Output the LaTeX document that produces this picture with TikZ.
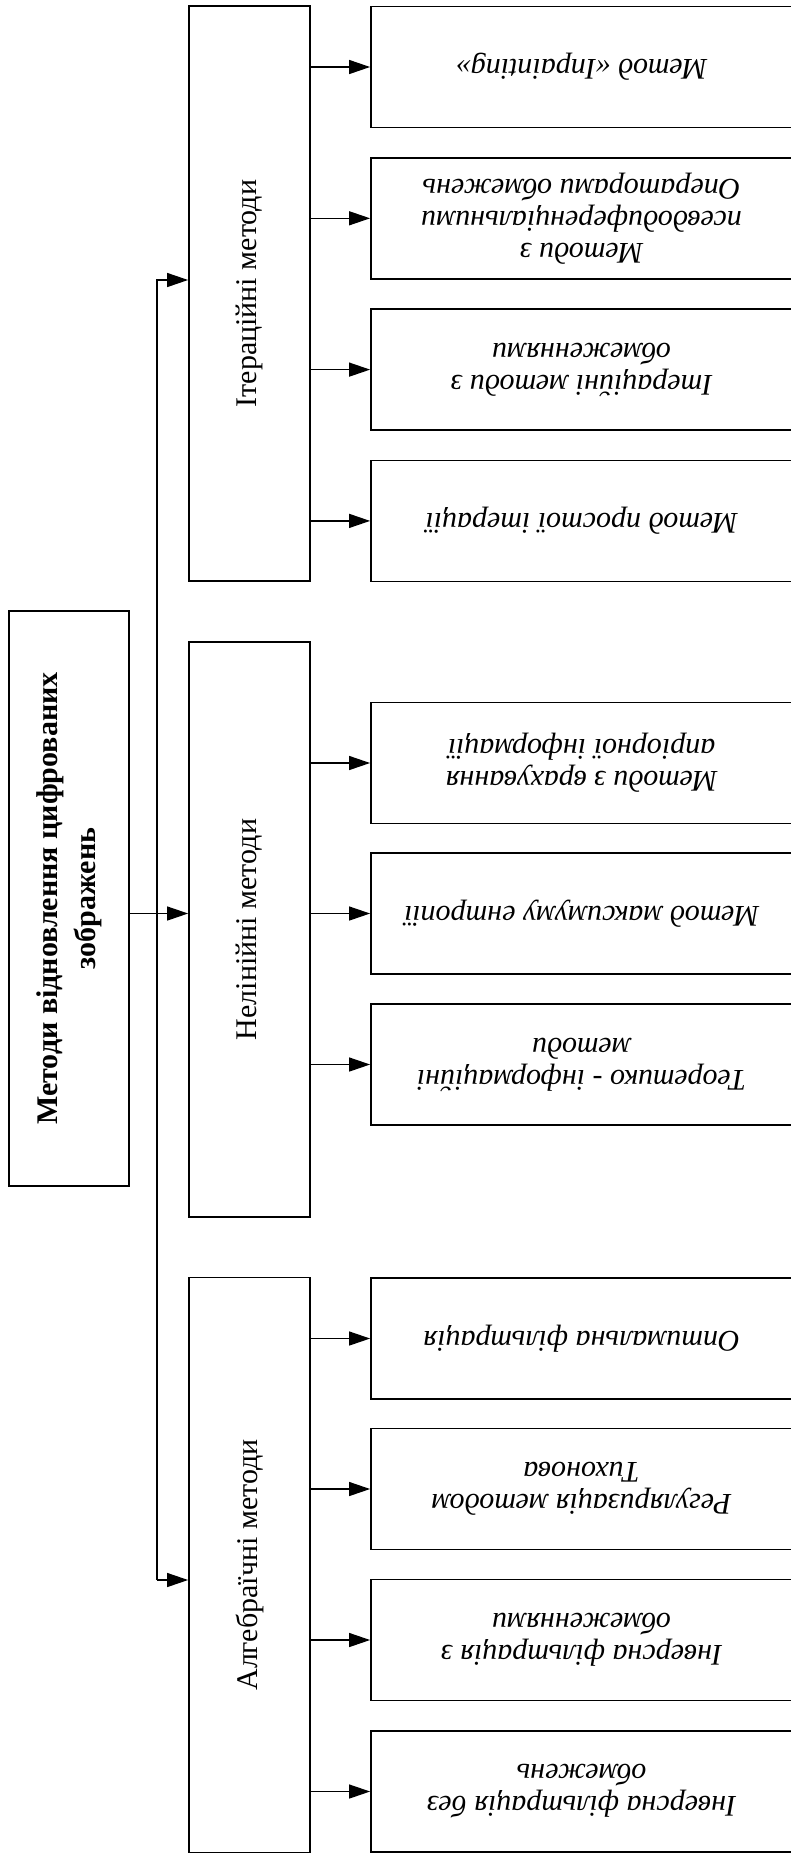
\documentclass[tikz,border=0pt]{standalone}
\usepackage{fontspec}
\setmainfont{Liberation Serif}
\usetikzlibrary{arrows.meta}

\begin{document}
\begin{tikzpicture}[x=0.5pt, y=-0.5pt]

    % Стилі вузлів і стрілок
    \tikzstyle{mainbox} = [rectangle, rotate=90, minimum width=287.5pt, minimum height=60pt, inner sep=0pt, align=center, draw=black, line width=0.9pt, font=\fontsize{15pt}{19pt}\selectfont\bfseries]
    \tikzstyle{groupbox} = [rectangle, rotate=90, minimum width=287.5pt, minimum height=60.5pt, inner sep=0pt, align=center, draw=black, line width=0.9pt, font=\fontsize{15pt}{16pt}\selectfont]
    \tikzstyle{methodbox} = [rectangle, rotate=180, minimum width=210.5pt, minimum height=60.5pt, inner sep=0pt, align=center, draw=black, line width=0.9pt, font=\fontsize{15pt}{16pt}\selectfont\itshape]
    \tikzstyle{arrow} = [line width=0.65pt, ->, >={Triangle[length=10.5pt, width=7pt]}]

    \useasboundingbox (0,0) rectangle (791,1854);

    % Головний вузол і групи методів
    \node (main) [mainbox] at (69,898.5) {Методи відновлення цифрованих\\ зображень};
    \node (iter) [groupbox] at (249.5,293.5) {Ітераційні методи};
    \node (nonlin) [groupbox] at (249.5,929.5) {Нелінійні методи};
    \node (alg) [groupbox] at (249.5,1565) {Алгебраїчні методи};

    % Ітераційні методи
    \node (i1) [methodbox] at (581.5,67) {Метод «Inpainting»};
    \node (i2) [methodbox] at (581.5,218.3) {Методи з\\ псевдодиференціальними\\ Операторами обмежень};
    \node (i3) [methodbox] at (581.5,369.6) {Ітераційні методи з\\ обмеженнями};
    \node (i4) [methodbox] at (581.5,520.9) {Метод простої ітерації};

    % Нелінійні методи
    \node (n1) [methodbox] at (581.5,763) {Методи з врахування\\ апріорної інформації};
    \node (n2) [methodbox] at (581.5,913.5) {Метод максимуму ентропії};
    \node (n3) [methodbox] at (581.5,1064.5) {Теоретико - інформаційні\\ методи};

    % Алгебраїчні методи
    \node (a1) [methodbox] at (581.5,1338.5) {Оптимальна фільтрація};
    \node (a2) [methodbox] at (581.5,1489) {Регуляризація методом\\ Тихонова};
    \node (a3) [methodbox] at (581.5,1640) {Інверсна фільтрація з\\ обмеженнями};
    \node (a4) [methodbox] at (581.5,1791.5) {Інверсна фільтрація без\\ обмежень};

    % Стовбур від головного вузла
    \coordinate (jiter) at (157,280);
    \coordinate (jalg) at (157,1580);
    \draw [arrow] (main.south |- n2) -- (nonlin.north |- n2);
    \draw [arrow] (jalg) -- (jiter) -- (jiter -| iter.north);
    \draw [arrow] (jalg) -- (jalg -| alg.north);

    % Стрілки до методів
    \draw [arrow] (iter.south |- i1) -- (i1.east);
    \draw [arrow] (iter.south |- i2) -- (i2.east);
    \draw [arrow] (iter.south |- i3) -- (i3.east);
    \draw [arrow] (iter.south |- i4) -- (i4.east);
    \draw [arrow] (nonlin.south |- n1) -- (n1.east);
    \draw [arrow] (nonlin.south |- n2) -- (n2.east);
    \draw [arrow] (nonlin.south |- n3) -- (n3.east);
    \draw [arrow] (alg.south |- a1) -- (a1.east);
    \draw [arrow] (alg.south |- a2) -- (a2.east);
    \draw [arrow] (alg.south |- a3) -- (a3.east);
    \draw [arrow] (alg.south |- a4) -- (a4.east);

\end{tikzpicture}
\end{document}
